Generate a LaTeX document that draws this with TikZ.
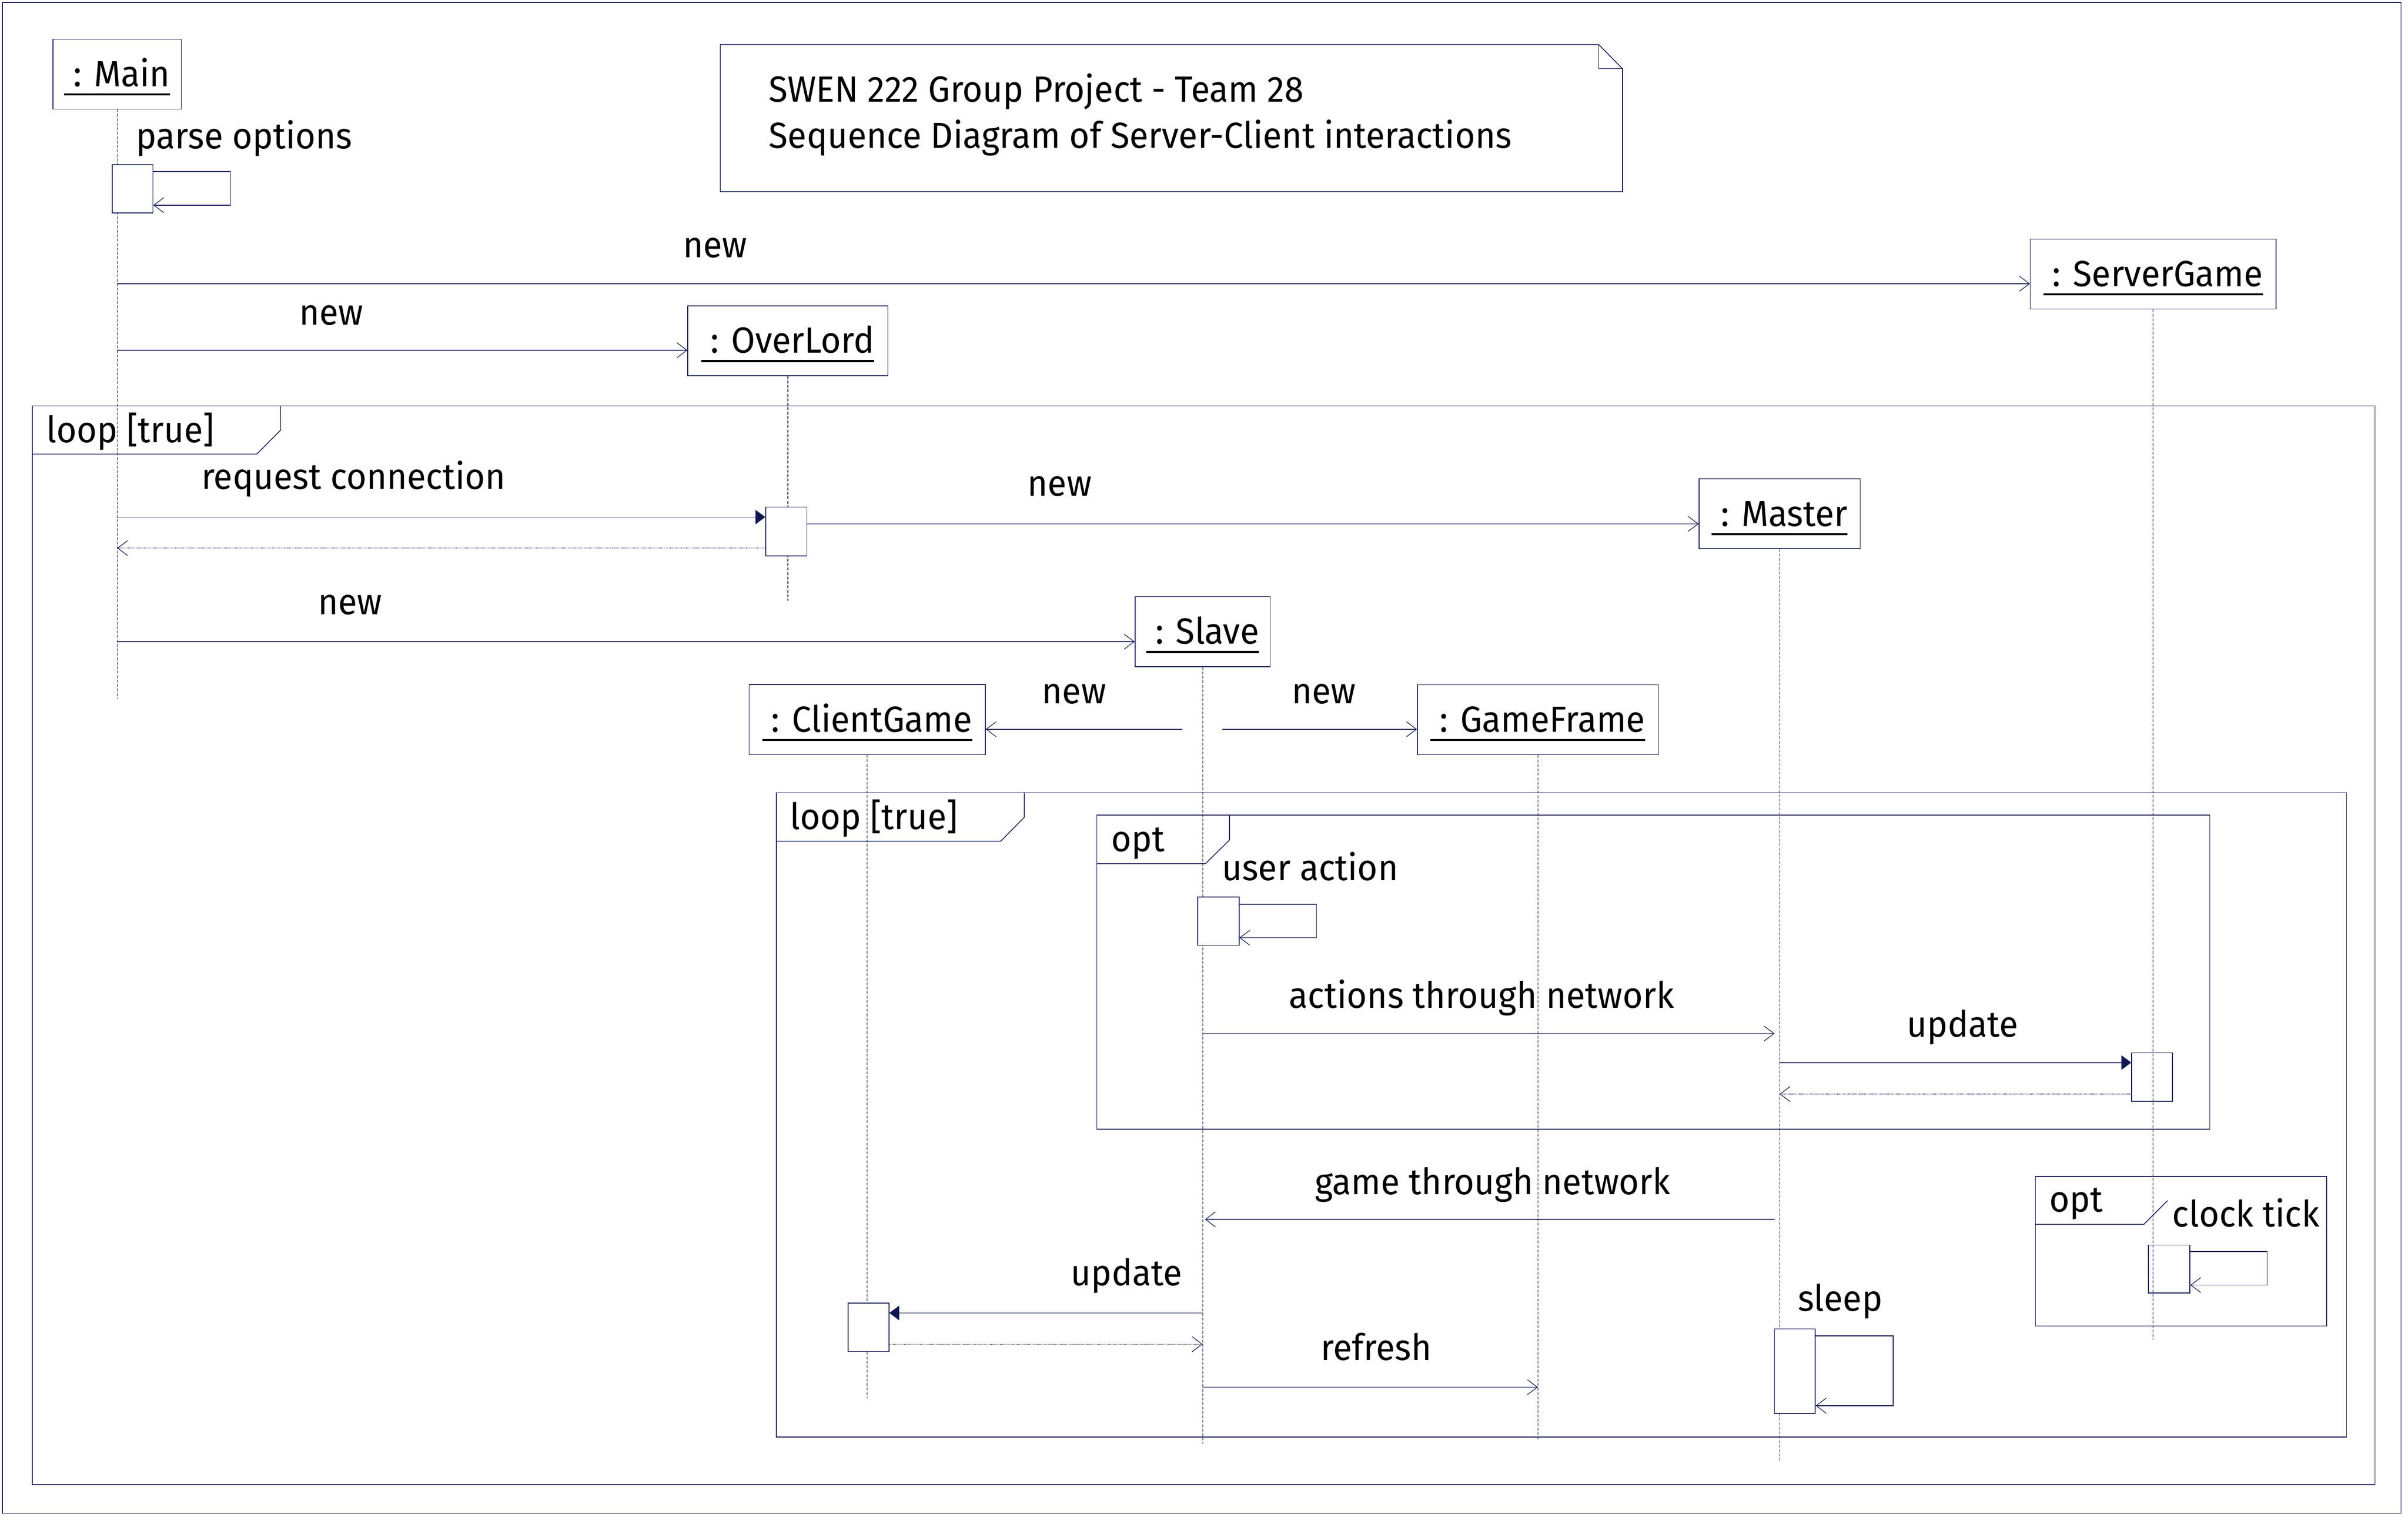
\documentclass[tikz,border=0pt]{standalone}
\usepackage{fontspec}
\setmainfont{Fira Sans}[FakeStretch=0.955]
\usetikzlibrary{arrows.meta}
\definecolor{lnc}{RGB}{16,24,84}
\newcommand\objname[1]{\setbox0=\hbox{\ #1}\dp0=0pt\vtop{\copy0\kern4.6pt\hrule height 1.3pt width \wd0}}
\tikzset{
  objbox/.style={draw=lnc, line width=0.5pt, fill=white, minimum height=45.5pt, inner sep=0pt, text height=22pt, text depth=6pt},
  actbox/.style={draw=lnc, line width=0.5pt, fill=white, inner sep=0pt},
  lifeln/.style={draw=lnc, line width=0.4pt, dash pattern=on 1.9pt off 1pt},
  msgarrow/.style={draw=lnc, line width=0.5pt, -{Straight Barb[length=6.5pt,width=9.8pt,line width=0.4pt]}},
  callarrow/.style={draw=lnc, line width=0.5pt, -{Triangle[length=6.4pt,width=9.4pt,color=lnc]}},
  retarrow/.style={draw=lnc, line width=0.4pt, dash pattern=on 0.4pt off 0.4pt, -{Straight Barb[length=6.5pt,width=9.8pt,line width=0.4pt]}},
  lbl/.style={inner sep=0pt, text=black},
  fragment/.style={draw=lnc, line width=0.5pt},
}
\begin{document}
\begin{tikzpicture}[x=1pt,y=-1pt,font=\fontsize{23.66pt}{28pt}\selectfont]
\useasboundingbox (0,0) rectangle (1568,987.4);
\draw[fragment] (1.6,1.6) rectangle (1563.4,985.1);

% title note
\draw[fragment] (469,29) -- (1041,29) -- (1056.5,44.7) -- (1056.5,124.8) -- (469,124.8) -- cycle;
\draw[fragment] (1041,29) -- (1041,44.7) -- (1056.5,44.7);
\node[lbl, anchor=base west] (title1) at (500.5,66.4) {SWEN 222 Group Project - Team 28};
\node[lbl, anchor=base west] (title2) at (500.5,96.3) {Sequence Diagram of Server-Client interactions};

% combined fragments
\draw[fragment] (21,264.2) rectangle (1546.5,966.5);
\draw[fragment] (21,295.6) -- (167.2,295.6) -- (182.7,280) -- (182.7,264.2);
\node[lbl, anchor=base west] (loopA) at (30.2,288) {loop [true]};

\draw[fragment] (505.5,516) rectangle (1528,935.4);
\draw[fragment] (505.5,547.6) -- (651.6,547.6) -- (667,532) -- (667,516);
\node[lbl, anchor=base west] (loopB) at (514.4,539.9) {loop [true]};

\draw[fragment] (714.2,530.6) rectangle (1438.9,735);
\draw[fragment] (714.2,562.2) -- (785,562.2) -- (800.6,546.8) -- (800.6,530.6);
\node[lbl, anchor=base west] (optA) at (723.4,554.4) {opt};

\draw[fragment] (1325.4,765.8) rectangle (1515,863.2);
\draw[fragment] (1325.4,797) -- (1396,797) -- (1411.5,781.5);
\node[lbl, anchor=base west] (optB) at (1334.4,788.7) {opt};

% objects
\node[objbox, minimum width=83.5pt] (main) at (76.3,48.25) {\objname{: Main}};
\node[objbox, minimum width=160pt] (sg) at (1402,178.4) {\objname{: ServerGame}};
\node[objbox, minimum width=130.3pt] (ol) at (513,221.8) {\objname{: OverLord}};
\node[objbox, minimum width=105pt] (ma) at (1158.8,334.5) {\objname{: Master}};
\node[objbox, minimum width=88pt] (sl) at (783.1,411.2) {\objname{: Slave}};
\node[objbox, minimum width=153.8pt] (cg) at (564.7,468.45) {\objname{: ClientGame}};
\node[objbox, minimum width=157pt] (gf) at (1001.4,468.5) {\objname{: GameFrame}};

% lifeline ends
\coordinate (mainEnd) at (76.3,455);
\coordinate (olEnd) at (513,391);
\coordinate (maEnd) at (1158.8,950.8);
\coordinate (slEnd) at (783.1,939.8);
\coordinate (cgEnd) at (564.7,910.2);
\coordinate (gfEnd) at (1001.4,938);
\coordinate (sgEnd) at (1402,872);
\draw[lifeln] (main) -- (mainEnd);
\draw[lifeln] (ol) -- (olEnd);
\draw[lifeln] (ma) -- (maEnd);
\draw[lifeln] (sl) -- (slEnd);
\draw[lifeln] (cg) -- (cgEnd);
\draw[lifeln] (gf) -- (gfEnd);

% activations
\node[actbox, minimum width=26.6pt, minimum height=31.4pt] (pA) at (86.3,122.9) {};
\node[actbox, minimum width=26.9pt, minimum height=31.8pt] (oA) at (512,345.9) {};
\node[actbox, minimum width=26.8pt, minimum height=31.4pt] (sA) at (793.4,599.7) {};
\node[actbox, minimum width=26.6pt, minimum height=31.4pt] (gA) at (1401.3,701.1) {};
\node[actbox, minimum width=27pt, minimum height=31.2pt] (kA) at (1412.5,826.1) {};
\node[actbox, minimum width=26.5pt, minimum height=55pt] (zA) at (1168.75,892.5) {};
\node[actbox, minimum width=26.7pt, minimum height=31.5pt] (cA) at (565.5,864) {};
\draw[lifeln] (sg) -- (sgEnd);

% message levels
\coordinate (ya) at (0,184.7);
\coordinate (yb) at (0,228);
\coordinate (yc) at (0,336.6);
\coordinate (yd) at (0,356.8);
\coordinate (ye) at (0,341);
\coordinate (yf) at (0,417.7);
\coordinate (yj) at (0,672.8);
\coordinate (yk) at (0,691.7);
\coordinate (yl) at (0,712.2);
\coordinate (ym) at (0,793.8);
\coordinate (yo) at (0,854.7);
\coordinate (yp) at (0,875);
\coordinate (yq) at (0,903);
\coordinate (gs) at (770,474.7);
\coordinate (hs) at (796,474.7);

% messages
\draw[msgarrow] (pA.north east) ++(0,4.6) -- ++(50.2,0) -- ++(0,22) -- ++(-50.2,0);
\node[lbl, anchor=base west] (lparse) at (88.4,96.8) {parse options};

\draw[msgarrow] (main |- ya) -- (sg.west |- ya);
\node[lbl, anchor=base] (lnew1) at (465.6,167.5) {new};

\draw[msgarrow] (main |- yb) -- (ol.west |- yb);
\node[lbl, anchor=base] (lnew2) at (215.7,211.4) {new};

\draw[callarrow] (main |- yc) -- (oA.west |- yc);
\node[lbl, anchor=base] (lreq) at (230.2,318.6) {request connection};
\draw[retarrow] (oA.west |- yd) -- (main |- yd);

\draw[msgarrow] (oA.east |- ye) -- (ma.west |- ye);
\node[lbl, anchor=base] (lnew3) at (690,323) {new};

\draw[msgarrow] (main |- yf) -- (sl.west |- yf);
\node[lbl, anchor=base] (lnew4) at (228,400) {new};

\draw[msgarrow] (gs) -- (cg.east |- gs);
\node[lbl, anchor=base] (lnew5) at (699.4,458) {new};
\draw[msgarrow] (hs) -- (gf.west |- hs);
\node[lbl, anchor=base] (lnew6) at (862,458) {new};

\draw[msgarrow] (sA.north east) ++(0,4.8) -- ++(50.2,0) -- ++(0,21.9) -- ++(-50.2,0);
\node[lbl, anchor=base west] (luser) at (795.5,573) {user action};

\draw[msgarrow, shorten >=3.3pt] (sl |- yj) -- (ma |- yj);
\node[lbl, anchor=base] (lact) at (964.8,656.1) {actions through network};

\draw[callarrow] (ma |- yk) -- (gA.west |- yk);
\node[lbl, anchor=base west] (lupd1) at (1241.5,675) {update};
\draw[retarrow] (gA.west |- yl) -- (ma |- yl);

\draw[msgarrow, shorten <=3.3pt, shorten >=1.5pt] (ma |- ym) -- (sl |- ym);
\node[lbl, anchor=base] (lgame) at (972,777.5) {game through network};

\draw[msgarrow] (kA.north east) ++(0,4.5) -- ++(50,0) -- ++(0,21.8) -- ++(-50,0);
\node[lbl, anchor=base west] (lclock) at (1414.4,798.5) {clock tick};

\draw[callarrow] (sl |- yo) -- (cA.east |- yo);
\node[lbl, anchor=base] (lupd2) at (733.5,836.7) {update};
\draw[retarrow] (cA.east |- yp) -- (sl |- yp);

\draw[msgarrow] (sl |- yq) -- (gf |- yq);
\node[lbl, anchor=base] (lref) at (896.2,885.4) {refresh};

\draw[msgarrow] (zA.north east) ++(0,4.9) -- ++(50.5,0) -- ++(0,45.4) -- ++(-50.5,0);
\node[lbl, anchor=base west] (lsleep) at (1170.5,853.4) {sleep};
\end{tikzpicture}
\end{document}
